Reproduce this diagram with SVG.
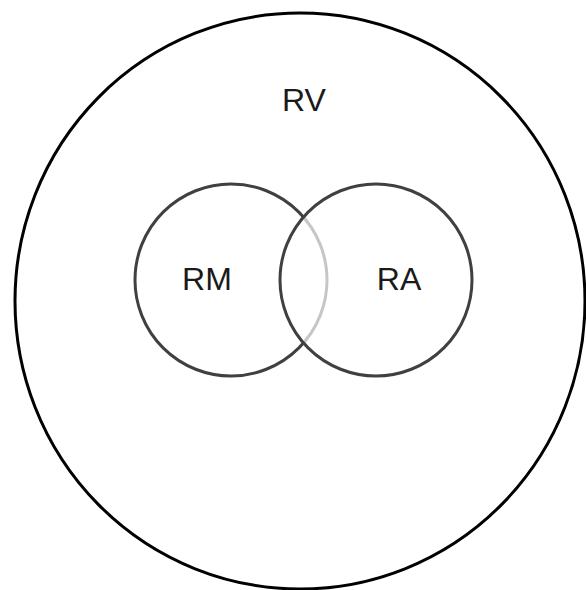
<svg xmlns="http://www.w3.org/2000/svg" width="586" height="590" viewBox="0 0 586 590">
<style>
.lbl{font-family:"Liberation Sans",Arial,sans-serif;font-size:32px;fill:#1a1a1a;text-anchor:middle}
.set{stroke:#404040;stroke-width:3;fill:#fff}
</style>
<rect width="586" height="590" fill="#fff"/>
<g id="RV">
<ellipse cx="300" cy="301" rx="285" ry="288" fill="#fff" stroke="#000" stroke-width="3"/>
<text class="lbl" x="304" y="111">RV</text>
</g>
<g id="RM">
<circle class="set" cx="231" cy="280" r="96"/>
<text class="lbl" x="207" y="290">RM</text>
</g>
<g id="RA">
<circle class="set" cx="376" cy="280" r="96" fill-opacity="0.7"/>
<text class="lbl" x="399" y="290">RA</text>
</g>
<g id="connectors"/>
</svg>
